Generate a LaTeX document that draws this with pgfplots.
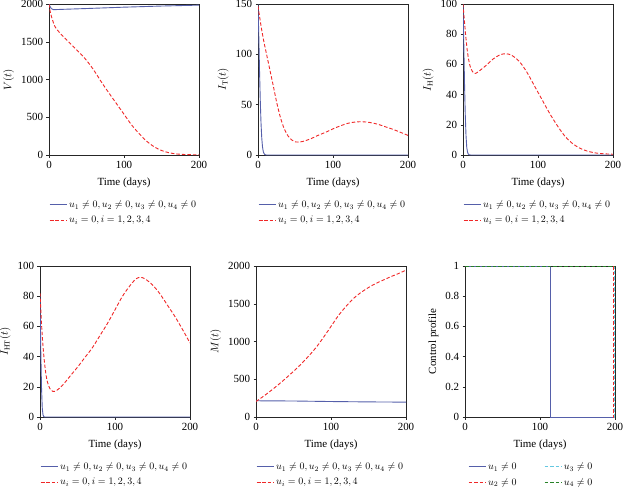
\documentclass[border=0pt]{standalone}
\usepackage{pgfplots}
\pgfplotsset{compat=1.18}
\usepackage{fontspec}
\setmainfont{Liberation Serif}
\definecolor{cblue}{RGB}{85,95,170}
\definecolor{cred}{RGB}{240,40,40}
\definecolor{ccyan}{RGB}{100,200,225}
\definecolor{cgreen}{RGB}{40,130,40}
\pgfplotsset{
  panel/.style={
    scale only axis, width=150bp, height=151bp,
    xmin=0, xmax=200, xtick={0,100,200},
    tick align=outside, xtick pos=left, ytick pos=left,
    major tick length=2.5bp,
    axis line style={black!85}, every tick/.style={black!85},
    xlabel={Time (days)},
    every axis x label/.style={at={(axis description cs:0.5,-0.185)}, anchor=center},
    /pgf/number format/assume math mode=true,
    /pgf/number format/1000 sep={},
    font=\fontsize{11}{13}\selectfont,
    tick label style={font=\fontsize{11}{13}\selectfont},
    label style={font=\fontsize{11}{13}\selectfont},
    legend style={draw=none, fill=none, at={(axis description cs:-0.02,-0.275)}, anchor=north west,
      font=\fontsize{10}{12}\selectfont, row sep=3bp},
    legend cell align=left,
  },
  bl/.style={cblue, line width=0.9bp},
  rd/.style={cred, line width=0.9bp, dash pattern=on 3.5bp off 2bp},
}
\begin{document}
\begin{tikzpicture}
\path[use as bounding box] (0,0) rectangle (624bp,-491bp);
% Panel 1: V(t)
\begin{axis}[panel, at={(49bp,-155bp)}, anchor=south west,
  ymin=0, ymax=2000, ytick={0,500,1000,1500,2000}, ylabel={$V(t)$}]
\addplot[bl] coordinates {(0,2000)(1,1975)(3,1940)(6,1925)(20,1930)(50,1940)(100,1958)(150,1973)(200,1985)};
\addlegendentry{$u_1\neq 0, u_2\neq 0, u_3\neq 0, u_4\neq 0$}
\addplot[rd, smooth] coordinates {(0,2000)(2,1880)(5,1780)(8,1700)(15,1610)(24,1520)(35,1410)(46,1300)(55,1190)(62,1090)(70,965)(80,820)(90,680)(100,540)(110,400)(120,285)(130,185)(140,110)(150,60)(160,30)(170,14)(180,7)(190,4)(200,2)};
\addlegendentry{$u_i=0, i=1,2,3,4$}
\end{axis}
% Panel 2: I_T(t)
\begin{axis}[panel, at={(258bp,-155bp)}, anchor=south west,
  ymin=0, ymax=150, ytick={0,50,100,150}, ylabel={$I_{\mathrm{T}}(t)$}]
\addplot[bl] coordinates {(0,150)(1,120)(2,85)(3,55)(4,32)(5,17)(6,8)(7,3.5)(8,1.5)(9,0.5)(11,0)(200,0)};
\addlegendentry{$u_1\neq 0, u_2\neq 0, u_3\neq 0, u_4\neq 0$}
\addplot[rd, smooth] coordinates {(0,148)(2,138)(5,124)(8,112)(12,98)(16,84)(20,70)(25,52)(30,37)(35,26)(40,19)(45,15)(50,13)(55,12.8)(60,13.5)(70,16)(80,19.5)(90,22.5)(100,26)(110,29)(120,31.5)(130,32.8)(140,33)(150,32.2)(160,30.5)(170,28)(180,25.5)(190,22.5)(200,19.5)};
\addlegendentry{$u_i=0, i=1,2,3,4$}
\end{axis}
% Panel 3: I_H(t)
\begin{axis}[panel, at={(463bp,-155bp)}, anchor=south west,
  ymin=0, ymax=100, ytick={0,20,40,60,80,100}, ylabel={$I_{\mathrm{H}}(t)$}]
\addplot[bl] coordinates {(0,100)(1,75)(2,48)(3,27)(4,13)(5,5)(6,2)(7,0.6)(8,0.2)(10,0)(200,0)};
\addlegendentry{$u_1\neq 0, u_2\neq 0, u_3\neq 0, u_4\neq 0$}
\addplot[rd, smooth] coordinates {(0,100)(2,88)(4,77)(6,68)(8,62)(10,58)(13,55)(16,54)(20,55)(30,59)(40,63.5)(50,66.5)(58,67)(65,66)(75,62)(85,55)(95,46)(105,37)(115,28)(125,20)(135,13)(145,8)(155,4.7)(165,2.7)(175,1.5)(185,0.9)(200,0.5)};
\addlegendentry{$u_i=0, i=1,2,3,4$}
\end{axis}
% Panel 4: I_HT(t)
\begin{axis}[panel, at={(40bp,-417bp)}, anchor=south west,
  ymin=0, ymax=100, ytick={0,20,40,60,80,100}, ylabel={$I_{\mathrm{HT}}(t)$}]
\addplot[bl] coordinates {(0,80)(1,45)(2,20)(3,6)(4,1.5)(5,0.3)(6,0)(200,0)};
\addlegendentry{$u_1\neq 0, u_2\neq 0, u_3\neq 0, u_4\neq 0$}
\addplot[rd, smooth] coordinates {(0,82)(2,62)(4,47)(6,36)(8,28)(10,23)(13,19)(17,17)(22,17.5)(30,21)(40,27)(50,33)(60,39.5)(70,46)(80,54)(90,62)(100,71)(110,80)(120,87)(128,91.5)(134,92.5)(140,91.5)(150,87.5)(160,81.5)(170,74)(180,66.5)(190,58)(200,49)};
\addlegendentry{$u_i=0, i=1,2,3,4$}
\end{axis}
% Panel 5: M(t)
\begin{axis}[panel, at={(256bp,-417bp)}, anchor=south west,
  ymin=0, ymax=2000, ytick={0,500,1000,1500,2000}, ylabel={$M(t)$}]
\addplot[bl] coordinates {(0,215)(50,212)(100,205)(150,200)(200,197)};
\addlegendentry{$u_1\neq 0, u_2\neq 0, u_3\neq 0, u_4\neq 0$}
\addplot[rd, smooth] coordinates {(0,205)(10,275)(20,350)(30,430)(40,515)(50,605)(60,700)(70,805)(80,920)(90,1055)(100,1200)(110,1345)(120,1465)(130,1570)(140,1650)(150,1715)(160,1770)(170,1815)(180,1860)(190,1900)(200,1945)};
\addlegendentry{$u_i=0, i=1,2,3,4$}
\end{axis}
% Panel 6: Control profile
\begin{axis}[panel, at={(465bp,-417bp)}, anchor=south west,
  ymin=0, ymax=1, ytick={0,0.2,0.4,0.6,0.8,1}, ylabel={Control profile},
  legend columns=2, transpose legend,
  legend style={at={(axis description cs:0.0,-0.275)}}]
\addplot[bl] coordinates {(0,1)(114,1)(114,0)(200,0)};
\addlegendentry{\makebox[54bp][l]{$u_1\neq 0$}}
\addplot[rd] coordinates {(0,1)(198,1)(198,0)(200,0)};
\addlegendentry{\makebox[54bp][l]{$u_2\neq 0$}}
\addplot[ccyan, line width=0.9bp, dash pattern=on 3.5bp off 2bp] coordinates {(0,1)(199,1)(199,0)(200,0)};
\addlegendentry{$u_3\neq 0$}
\addplot[cgreen, line width=0.9bp, dash pattern=on 3.5bp off 2bp] coordinates {(0,1)(200,1)(200,0)};
\addlegendentry{$u_4\neq 0$}
\end{axis}
\end{tikzpicture}
\end{document}
